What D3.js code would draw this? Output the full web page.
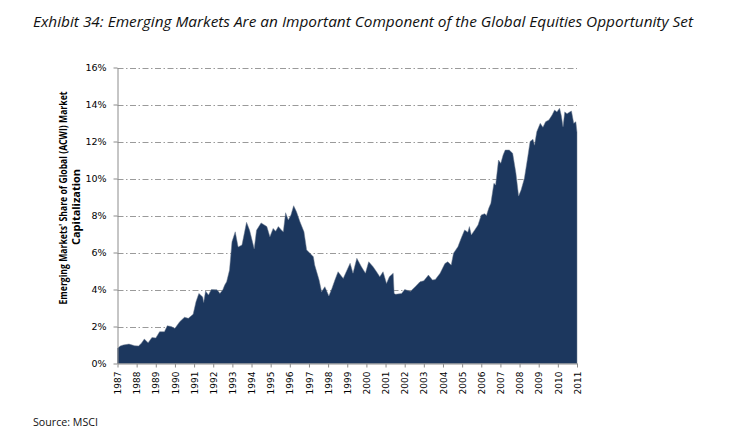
<!DOCTYPE html>
<html lang="en">
<head>
  <meta charset="UTF-8">
  <title>Exhibit 34</title>
  <style>
    body { margin: 0; background: #fff; }
    .grid line { stroke: #9a9a9a; stroke-width: 1; stroke-dasharray: 6,2.5,1.5,2.5; }
    .axis path, .axis line { stroke: #8c8c8c; }
    .axis text { font-family: "DejaVu Sans", sans-serif; fill: #000; }
  </style>
</head>
<body>
  <div id="chart"></div>

  <script src="https://cdn.jsdelivr.net/npm/d3@7"></script>
  <script>
    // EM share of ACWI market cap (decimal year, %)
    const years = [
      1987.0, 1987.15, 1987.3, 1987.6, 1987.9, 1988.1, 1988.25, 1988.4, 1988.6, 1988.8,
      1989.0, 1989.2, 1989.45, 1989.6, 1989.8, 1990.0, 1990.25, 1990.5, 1990.7, 1990.95,
      1991.1, 1991.25, 1991.45, 1991.5, 1991.6, 1991.75, 1991.9, 1992.2, 1992.35, 1992.5,
      1992.6, 1992.7, 1992.85, 1992.98, 1993.15, 1993.3, 1993.5, 1993.74, 1993.9, 1994.14,
      1994.26, 1994.5, 1994.8, 1994.96, 1995.13, 1995.26, 1995.4, 1995.57, 1995.66, 1995.78,
      1995.92, 1996.06, 1996.2, 1996.35, 1996.53, 1996.74, 1996.88, 1997.05, 1997.23, 1997.3,
      1997.53, 1997.66, 1997.83, 1998.04, 1998.2, 1998.35, 1998.52, 1998.79, 1999.15, 1999.3,
      1999.5, 1999.74, 1999.95, 2000.12, 2000.35, 2000.53, 2000.7, 2000.87, 2001.05, 2001.2,
      2001.4, 2001.45, 2001.53, 2001.84, 2002.0, 2002.3, 2002.55, 2002.8, 2003.0, 2003.24,
      2003.45, 2003.6, 2003.85, 2004.1, 2004.25, 2004.43, 2004.55, 2004.78, 2004.95, 2005.13,
      2005.3, 2005.38, 2005.48, 2005.66, 2005.83, 2006.0, 2006.18, 2006.27, 2006.39, 2006.5,
      2006.66, 2006.75, 2006.9, 2007.02, 2007.14, 2007.25, 2007.46, 2007.64, 2007.81, 2007.95,
      2008.08, 2008.25, 2008.43, 2008.55, 2008.7, 2008.78, 2008.9, 2009.08, 2009.22, 2009.36,
      2009.53, 2009.7, 2009.83, 2009.95, 2010.09, 2010.18, 2010.27, 2010.36, 2010.48, 2010.62,
      2010.71, 2010.83, 2010.94, 2011.0
    ];
    const emShare = [
      0.82, 0.95, 1.0, 1.05, 0.96, 0.95, 1.1, 1.32, 1.12, 1.41,
      1.38, 1.72, 1.72, 2.04, 2.0, 1.9, 2.26, 2.5, 2.44, 2.66,
      3.34, 3.79, 3.6, 3.3, 3.92, 3.7, 4.0, 3.98, 3.79, 3.99,
      4.24, 4.42, 5.05, 6.58, 7.12, 6.3, 6.4, 7.63, 7.2, 6.2,
      7.2, 7.6, 7.4, 6.85, 7.3, 7.15, 7.4, 7.2, 7.12, 8.15,
      7.76, 8.03, 8.53, 8.2, 7.66, 7.12, 6.14, 5.96, 5.77, 5.32,
      4.51, 3.88, 4.15, 3.65, 4.06, 4.5, 4.96, 4.6, 5.42, 4.88,
      5.69, 5.23, 4.88, 5.5, 5.23, 4.96, 4.69, 4.96, 4.33, 4.69,
      4.88, 3.79, 3.74, 3.79, 4.0, 3.9, 4.15, 4.42, 4.47, 4.78,
      4.51, 4.54, 4.88, 5.4, 5.5, 5.32, 5.96, 6.31, 6.77, 7.22,
      7.1, 7.4, 6.95, 7.22, 7.49, 8.03, 8.1, 8.0, 8.39, 8.66,
      9.74, 9.65, 11.0, 10.82, 11.27, 11.54, 11.54, 11.36, 10.28, 9.05,
      9.38, 10.0, 11.18, 12.0, 12.12, 11.8, 12.53, 12.98, 12.77, 13.07,
      13.16, 13.43, 13.7, 13.6, 13.8, 13.4, 12.8, 13.6, 13.5, 13.6,
      13.65, 12.98, 13.07, 12.5
    ];
    const yTicks = [0, 2, 4, 6, 8, 10, 12, 14, 16];
    const xTicks = d3.range(1987, 2012);

    const titleText = "Exhibit 34: Emerging Markets Are an Important Component of the Global Equities Opportunity Set";
    const yTitle = ["Emerging Markets' Share of Global (ACWI) Market", "Capitalization"];
    const sourceText = "Source: MSCI";

    const W = 745, H = 442;
    const plotL = 117.5, plotR = 577, plotT = 67.5, plotB = 363.5;

    const svg = d3.select("#chart").append("svg")
      .attr("width", W)
      .attr("height", H);

    const x = d3.scaleLinear().domain([1987, 2011]).range([plotL, plotR]);
    const y = d3.scaleLinear().domain([0, 16]).range([plotB, plotT]);

    const data = years.map((yr, i) => ({ yr: yr, v: emShare[i] }));

    // dash-dot gridlines
    svg.append("g")
      .attr("class", "grid")
      .selectAll("line")
      .data(yTicks.filter(d => d > 0))
      .enter().append("line")
      .attr("x1", plotL)
      .attr("x2", plotR)
      .attr("y1", d => Math.round(y(d)) + 0.5)
      .attr("y2", d => Math.round(y(d)) + 0.5);

    // the area
    const area = d3.area()
      .x(d => x(d.yr))
      .y0(y(0))
      .y1(d => y(d.v));

    svg.append("path")
      .datum(data)
      .attr("d", area)
      .attr("fill", "#1c375e")
      .attr("stroke", "#6f7c90")
      .attr("stroke-width", 0.5);

    // y axis
    const yAxis = svg.append("g")
      .attr("class", "axis")
      .attr("transform", `translate(${plotL}, 0)`)
      .call(d3.axisLeft(y).tickValues(yTicks).tickSize(4).tickSizeOuter(0).tickFormat(d => d + "%"));
    yAxis.selectAll("text")
      .attr("x", -11)
      .style("font-size", "9.5px");

    // x axis
    const xAxis = svg.append("g")
      .attr("class", "axis")
      .attr("transform", `translate(0, ${plotB})`)
      .call(d3.axisBottom(x).tickValues(xTicks).tickSize(4).tickSizeOuter(0).tickFormat(d3.format("d")));
    xAxis.selectAll("text")
      .attr("x", -8)
      .attr("y", 0)
      .attr("dy", "0.35em")
      .attr("transform", "rotate(-90)")
      .style("text-anchor", "end")
      .style("font-size", "9px");

    // y axis title, two lines
    svg.append("text")
      .attr("transform", "translate(67, 198) rotate(-90)")
      .attr("text-anchor", "middle")
      .attr("textLength", 213)
      .attr("lengthAdjust", "spacingAndGlyphs")
      .style("font-family", "'Open Sans', sans-serif")
      .style("font-weight", "bold")
      .style("font-size", "10px")
      .text(yTitle[0]);
    svg.append("text")
      .attr("transform", "translate(80, 207) rotate(-90)")
      .attr("text-anchor", "middle")
      .attr("textLength", 76)
      .attr("lengthAdjust", "spacingAndGlyphs")
      .style("font-family", "'Open Sans', sans-serif")
      .style("font-weight", "bold")
      .style("font-size", "10px")
      .text(yTitle[1]);

    // title
    svg.append("text")
      .attr("x", 33)
      .attr("y", 27)
      .attr("textLength", 660)
      .attr("lengthAdjust", "spacingAndGlyphs")
      .style("font-family", "'Open Sans', sans-serif")
      .style("font-style", "italic")
      .style("font-size", "14px")
      .style("fill", "#111")
      .text(titleText);

    // source
    svg.append("text")
      .attr("x", 33)
      .attr("y", 426)
      .attr("textLength", 65)
      .attr("lengthAdjust", "spacingAndGlyphs")
      .style("font-family", "'Open Sans', sans-serif")
      .style("font-size", "10.5px")
      .style("fill", "#111")
      .text(sourceText);
  </script>
</body>
</html>
